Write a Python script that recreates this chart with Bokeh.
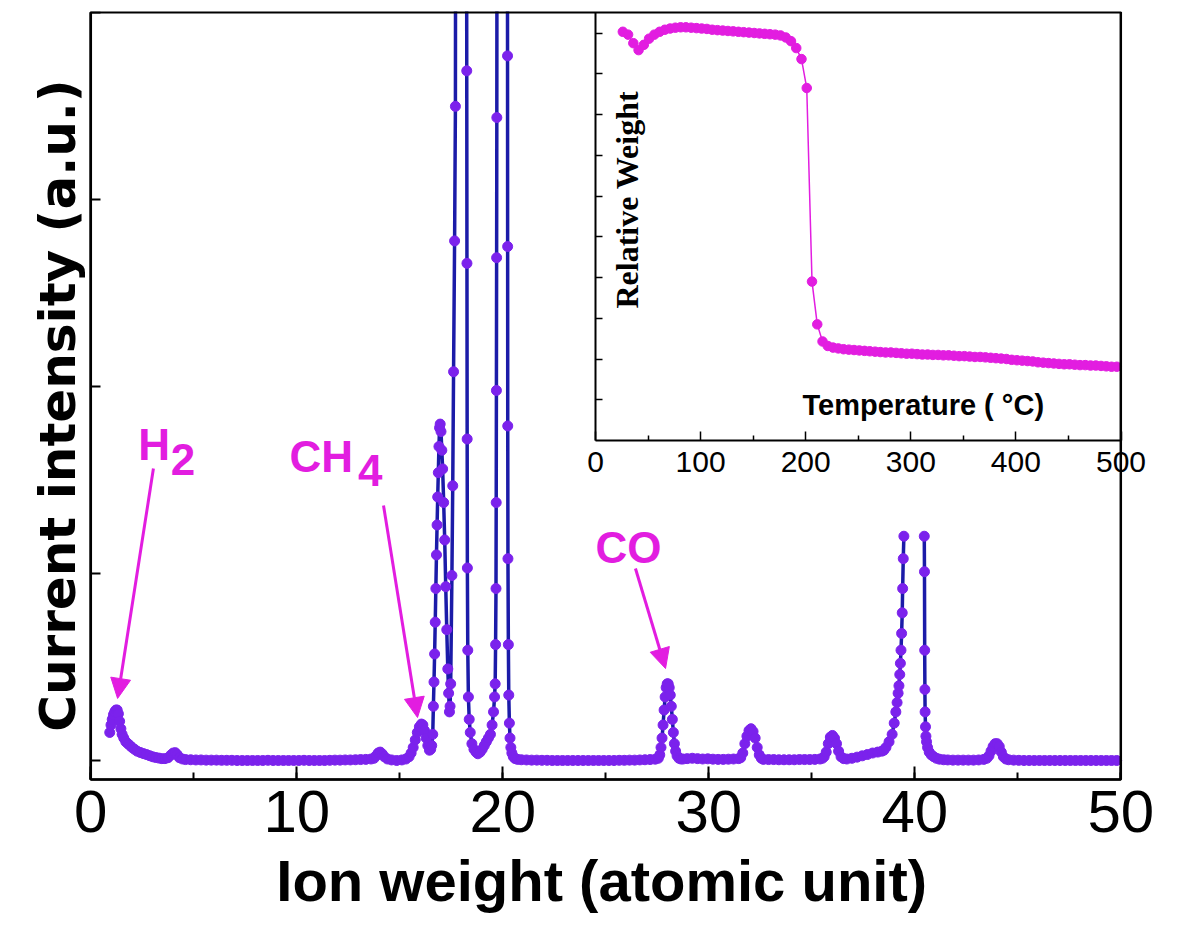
import math
from bokeh.plotting import figure
from bokeh.models import (Range1d, LinearAxis, FixedTicker, SingleIntervalTicker,
                          Label, Arrow, NormalHead, BoxAnnotation)
from bokeh.embed import file_html
from bokeh.resources import INLINE

# ---------------- main spectrum: (ion weight, current intensity a.u.) ----------------
seg_h2 = [(0.92,0.15),(0.98,0.19),(1.04,0.22),(1.10,0.245),(1.16,0.26),(1.22,0.27),(1.28,0.27),(1.34,0.25),
          (1.40,0.21),(1.46,0.17),(1.52,0.14),(1.60,0.12),(1.70,0.10),(1.80,0.09),(1.90,0.08),(2.00,0.07),
          (2.12,0.06),(2.25,0.05),(2.40,0.043),(2.55,0.037),(2.70,0.032),(2.85,0.026),(3.00,0.02),(3.15,0.016),
          (3.30,0.013),(3.45,0.01),(3.60,0.01),(3.75,0.015),(3.90,0.03),(4.00,0.04),(4.10,0.042),(4.20,0.03),
          (4.30,0.015),(4.45,0.008),(4.60,0.005)]
seg_base1 = [(4.85,0.004),(5.10,0.003),(5.35,0.003),(5.60,0.002),(5.85,0.002),(6.10,0.002),(6.35,0.001),
             (6.60,0.001),(6.85,0.001),(7.10,0.0),(7.35,0.0),(7.60,0.0),(7.85,0.0),(8.10,0.0),(8.35,0.0),
             (8.60,0.001),(8.85,0.0),(9.10,0.0),(9.35,0.0),(9.60,0.0),(9.85,0.0),(10.10,0.0),(10.35,0.001),
             (10.60,0.0),(10.85,0.0),(11.10,0.0),(11.35,0.0),(11.60,0.001),(11.85,0.002),(12.10,0.002),
             (12.35,0.003),(12.60,0.003),(12.85,0.004),(13.10,0.005),(13.35,0.006),(13.60,0.008)]
seg_ch4 = [(13.75,0.012),(13.85,0.025),(13.95,0.04),(14.05,0.045),(14.15,0.035),(14.25,0.02),(14.40,0.008),
           (14.60,0.003),(14.85,0.0),(15.10,0.003),(15.30,0.008),(15.45,0.02),(15.55,0.04),(15.65,0.07),
           (15.75,0.11),(15.85,0.15),(15.95,0.18),(16.05,0.195),(16.12,0.19),(16.20,0.16),(16.28,0.12),
           (16.36,0.08),(16.44,0.055),(16.50,0.06)]
seg_water = [(16.55,0.08),(16.60,0.14),(16.63,0.29),(16.66,0.42),(16.69,0.57),(16.72,0.74),(16.75,0.92),
             (16.78,1.10),(16.81,1.26),(16.84,1.41),(16.87,1.54),(16.90,1.68),(16.93,1.78),(16.96,1.80),
             (17.00,1.76),(17.04,1.66),(17.08,1.56),(17.13,1.38),(17.18,1.18),(17.23,0.93),(17.28,0.70),
             (17.33,0.49),(17.37,0.36),(17.41,0.26),(17.44,0.29),(17.47,0.41),(17.53,0.99),(17.57,1.47),
             (17.61,2.08),(17.66,2.78),(17.70,3.50),(17.98,40.0),(18.25,3.69),(18.26,2.66),(18.27,1.72),
             (18.28,1.03),(18.30,0.59),(18.33,0.34),(18.37,0.22),(18.42,0.15),(18.50,0.09),(18.60,0.06),
             (18.70,0.045),(18.79,0.036),(18.90,0.045),(19.00,0.06),(19.10,0.08),(19.20,0.10),(19.30,0.12),
             (19.40,0.14),(19.48,0.19),(19.55,0.26),(19.60,0.34),(19.63,0.41),(19.65,0.62),(19.67,0.92),
             (19.68,1.38),(19.69,1.98),(19.70,2.69),(19.71,3.44),(19.97,40.0),(20.23,3.77),(20.235,2.75),
             (20.24,1.79),(20.25,1.08),(20.27,0.62),(20.29,0.35),(20.32,0.20),(20.35,0.12),(20.39,0.07),
             (20.44,0.04),(20.51,0.02),(20.60,0.01),(20.72,0.006)]
seg_base2 = [(20.90,0.004),(21.15,0.003),(21.40,0.002),(21.65,0.002),(21.90,0.001),(22.15,0.001),(22.40,0.0),
             (22.65,0.0),(22.90,0.0),(23.15,0.0),(23.40,0.0),(23.65,0.0),(23.90,0.0),(24.15,0.0),(24.40,0.0),
             (24.65,0.0),(24.90,0.0),(25.15,0.0),(25.40,0.0),(25.65,0.001),(25.90,0.001),(26.15,0.002),
             (26.40,0.002),(26.65,0.003),(26.90,0.004),(27.15,0.005),(27.40,0.007)]
seg_co = [(27.55,0.012),(27.62,0.03),(27.68,0.07),(27.73,0.12),(27.78,0.19),(27.83,0.27),(27.88,0.34),
          (27.93,0.39),(27.98,0.41),(28.03,0.41),(28.08,0.39),(28.13,0.35),(28.18,0.29),(28.23,0.22),
          (28.28,0.15),(28.33,0.09),(28.39,0.05),(28.46,0.025),(28.55,0.012),(28.65,0.008)]
seg_base3 = [(28.75,0.008),(28.95,0.01),(29.20,0.012),(29.45,0.01),(29.70,0.008),(29.95,0.009),(30.20,0.007),
             (30.45,0.006),(30.70,0.006),(30.95,0.007),(31.20,0.008),(31.45,0.01)]
seg_o2 = [(31.55,0.015),(31.65,0.04),(31.75,0.09),(31.85,0.13),(31.95,0.16),(32.05,0.17),(32.15,0.155),
          (32.25,0.12),(32.35,0.07),(32.45,0.03),(32.55,0.012)]
seg_base4 = [(32.65,0.006),(32.90,0.005),(33.15,0.005),(33.40,0.004),(33.65,0.004),(33.90,0.004),(34.15,0.004),
             (34.40,0.005),(34.65,0.005),(34.90,0.005),(35.15,0.006),(35.40,0.008)]
seg_36 = [(35.52,0.012),(35.60,0.02),(35.70,0.045),(35.80,0.09),(35.90,0.125),(36.00,0.134),(36.10,0.12),
          (36.20,0.09),(36.30,0.05),(36.42,0.02),(36.55,0.01)]
seg_ar_rise = [(36.70,0.008),(36.95,0.012),(37.20,0.018),(37.45,0.025),(37.70,0.032),(37.95,0.04),(38.20,0.045),
               (38.40,0.05),(38.50,0.055),(38.60,0.07),(38.75,0.10),(38.90,0.14),(39.00,0.20),(39.08,0.26),
               (39.14,0.31),(39.19,0.36),(39.23,0.40),(39.27,0.46),(39.30,0.52),(39.33,0.59),(39.36,0.68),
               (39.39,0.79),(39.41,0.92),(39.44,1.08),(39.47,1.20)]
seg_ar_fall = [(40.46,1.20),(40.47,1.01),(40.48,0.59),(40.49,0.38),(40.50,0.26),(40.52,0.18),(40.54,0.13),
               (40.57,0.10),(40.62,0.07),(40.70,0.045),(40.80,0.03),(40.92,0.02),(41.05,0.012),(41.20,0.007),
               (41.40,0.004)]
seg_base5 = [(41.60,0.003),(41.85,0.002),(42.10,0.002),(42.35,0.002),(42.60,0.002),(42.85,0.002),(43.10,0.003),
             (43.35,0.006)]
seg_co2 = [(43.50,0.012),(43.60,0.025),(43.70,0.05),(43.80,0.075),(43.90,0.09),(44.00,0.09),(44.10,0.075),
           (44.20,0.045),(44.30,0.02),(44.42,0.008)]
seg_base6 = [(44.55,0.004),(44.80,0.002),(45.05,0.001),(45.30,0.0),(45.55,0.0),(45.80,0.0),(46.05,0.0),(46.30,0.0),
             (46.55,0.0),(46.80,0.0),(47.05,0.0),(47.30,0.0),(47.55,0.0),(47.80,0.0),(48.05,0.0),(48.30,0.0),
             (48.55,0.0),(48.80,0.0),(49.05,0.0),(49.30,0.0),(49.55,0.0),(49.80,0.0)]

GAP = [(float("nan"), float("nan"))]
spectrum = (seg_h2 + seg_base1 + seg_ch4 + seg_water + seg_base2 + seg_co + seg_base3 + seg_o2 +
            seg_base4 + seg_36 + seg_ar_rise + GAP + seg_ar_fall + seg_base5 + seg_co2 + seg_base6)
ion_weight = [a for a, b in spectrum]
intensity = [b for a, b in spectrum]

# ---------------- inset TGA: temperature (C) vs relative weight ----------------
temperature = [26, 31, 36, 41, 46, 51, 56, 61, 66, 71,
               76, 81, 86, 91, 96, 101, 106, 111, 116, 121,
               126, 131, 136, 141, 146, 151, 156, 161, 166, 171,
               176, 181, 186, 191, 196, 201, 206, 211, 216, 221,
               226, 231, 236, 241, 246, 251, 256, 261, 266, 271,
               276, 281, 286, 291, 296, 301, 306, 311, 316, 321,
               326, 331, 336, 341, 346, 351, 356, 361, 366, 371,
               376, 381, 386, 391, 396, 401, 406, 411, 416, 421,
               426, 431, 436, 441, 446, 451, 456, 461, 466, 471,
               476, 481, 486, 491, 496]
rel_weight = [10.03, 9.96, 9.75, 9.58, 9.71, 9.86, 9.96, 10.03, 10.08, 10.11,
              10.13, 10.14, 10.14, 10.13, 10.12, 10.11, 10.10, 10.08, 10.07, 10.06,
              10.05, 10.04, 10.03, 10.02, 10.01, 10.00, 9.99, 9.98, 9.97, 9.96,
              9.94, 9.89, 9.80, 9.63, 9.36, 8.65, 3.90, 2.85, 2.43, 2.32,
              2.28, 2.26, 2.24, 2.23, 2.22, 2.21, 2.20, 2.19, 2.18, 2.17,
              2.16, 2.16, 2.15, 2.14, 2.13, 2.13, 2.12, 2.11, 2.11, 2.10,
              2.10, 2.09, 2.09, 2.08, 2.07, 2.07, 2.06, 2.05, 2.05, 2.04,
              2.03, 2.02, 2.01, 2.00, 1.98, 1.97, 1.96, 1.95, 1.94, 1.92,
              1.91, 1.90, 1.89, 1.88, 1.87, 1.87, 1.86, 1.85, 1.85, 1.84,
              1.84, 1.83, 1.82, 1.81, 1.81]

main_ticks_y = [0, 1, 2, 3, 4]
inset_ticks_x = [0, 100, 200, 300, 400, 500]
inset_minor_x = [50, 150, 250, 350, 450]
inset_ticks_y = [1, 2, 3, 4, 5, 6, 7, 8, 9, 10]

PURPLE = "#7B22EC"
BLUE = "#1B1BA8"
MAG = "#E21DE0"
FONT = "Liberation Sans"

# ---------------- layout (pixel calibration of the canvas) ----------------
W, H, TOP = 1195, 926, 11
PX_X0, PX_PER_X = 90.3, 20.6        # main x: pixel of 0, pixels per unit
PX_Y0, PX_PER_Y = 760.0, 186.9      # main y: pixel of 0, pixels per unit
X_VIS = (0, 50)                      # visible main axis box
Y_VIS = (-0.1017, 4.004)
PX_T0, PX_PER_T = 595.0, 1.051       # inset x
PX_W0, PX_PER_W = 440.0, 40.75       # inset y
W_TOP = 10.51

def xr(px0, k):
    return Range1d((0 - px0) / k, (W - px0) / k)

def yr(py0, k):
    return Range1d((py0 - H) / k, (py0 - TOP) / k)

p = figure(width=W, height=H, x_range=xr(PX_X0, PX_PER_X), y_range=yr(PX_Y0, PX_PER_Y),
           x_axis_location=None, y_axis_location=None,
           output_backend="svg", toolbar_location=None,
           min_border_left=0, min_border_right=0, min_border_top=TOP, min_border_bottom=0)
for g in p.grid:
    g.visible = False
p.outline_line_color = None
p.background_fill_color = "white"
p.border_fill_color = "white"
p.extra_x_ranges = {"temp": xr(PX_T0, PX_PER_T)}
p.extra_y_ranges = {"wt": yr(PX_W0, PX_PER_W)}

# main box
p.add_layout(BoxAnnotation(left=X_VIS[0], right=X_VIS[1], bottom=Y_VIS[0], top=Y_VIS[1],
                           fill_color=None, fill_alpha=0, line_color="black", line_alpha=1.0,
                           line_width=2.5))

xa = LinearAxis(fixed_location=Y_VIS[0], bounds=X_VIS,
                ticker=SingleIntervalTicker(interval=10, num_minor_ticks=2))
xa.major_tick_in = 13
xa.major_tick_out = 0
xa.minor_tick_in = 7
xa.minor_tick_out = 0
xa.axis_line_width = 2
xa.major_tick_line_width = 2
xa.minor_tick_line_width = 2
xa.major_label_text_font = FONT
xa.major_label_text_font_size = "60px"
xa.major_label_text_color = "black"
xa.major_label_standoff = 11
p.add_layout(xa, "below")

ya = LinearAxis(fixed_location=X_VIS[0], bounds=Y_VIS,
                ticker=FixedTicker(ticks=[], minor_ticks=main_ticks_y))
ya.major_tick_in = 0
ya.major_tick_out = 0
ya.minor_tick_in = 10
ya.minor_tick_out = 0
ya.axis_line_width = 2
ya.minor_tick_line_width = 2
p.add_layout(ya, "left")

# axis titles
p.add_layout(Label(x=24.8, y=-0.6426, text="Ion weight (atomic unit)", text_font=FONT,
                   text_font_size="58px", text_font_style="bold", text_color="black",
                   text_align="center", text_baseline="alphabetic"))
p.add_layout(Label(x=-1.568, y=1.899, angle=math.pi / 2, text="Current intensity (a.u.)",
                   text_font="DejaVu Sans", text_font_size="50px", text_font_style="bold",
                   text_color="black", text_align="center", text_baseline="alphabetic"))

# main data
p.line(ion_weight, intensity, line_color=BLUE, line_width=3.5)
p.scatter(ion_weight, intensity, size=10, fill_color=PURPLE, line_color=PURPLE)

# gas labels and arrows
def lab(x, y, t):
    p.add_layout(Label(x=x, y=y, text=t, text_font=FONT, text_font_size="44px",
                       text_font_style="bold", text_color=MAG, text_baseline="alphabetic",
                       text_align="left"))

lab(2.30, 1.690, "H")
lab(3.88, 1.610, "2")
lab(9.65, 1.628, "CH")
lab(12.97, 1.549, "4")
lab(24.5, 1.1375, "CO")

for xs, ys, xe, ye in [(3.04, 1.562, 1.30, 0.332), (14.21, 1.364, 15.86, 0.23), (26.44, 1.027, 27.9, 0.492)]:
    p.add_layout(Arrow(end=NormalHead(size=20, fill_color=MAG, line_color=MAG, line_width=1),
                       x_start=xs, y_start=ys, x_end=xe, y_end=ye,
                       line_color=MAG, line_width=3))

# ---------------- inset ----------------
ax_t = LinearAxis(x_range_name="temp", y_range_name="wt", fixed_location=0, bounds=(0, 500),
                  ticker=FixedTicker(ticks=[], minor_ticks=inset_ticks_x))
ax_t.major_tick_in = 0
ax_t.major_tick_out = 0
ax_t.minor_tick_in = 9
ax_t.minor_tick_out = 0
ax_t.axis_line_width = 2
ax_t.minor_tick_line_width = 1.5
p.add_layout(ax_t, "below")

ax_t2 = LinearAxis(x_range_name="temp", y_range_name="wt", fixed_location=0, bounds=(0, 500),
                   ticker=FixedTicker(ticks=[], minor_ticks=inset_minor_x))
ax_t2.major_tick_in = 0
ax_t2.major_tick_out = 0
ax_t2.minor_tick_in = 5
ax_t2.minor_tick_out = 0
ax_t2.axis_line_color = None
ax_t2.minor_tick_line_width = 1.5
p.add_layout(ax_t2, "below")

ax_w = LinearAxis(x_range_name="temp", y_range_name="wt", fixed_location=0, bounds=(0, W_TOP),
                  ticker=FixedTicker(ticks=[], minor_ticks=inset_ticks_y))
ax_w.major_tick_in = 0
ax_w.major_tick_out = 0
ax_w.minor_tick_in = 7
ax_w.minor_tick_out = 0
ax_w.axis_line_width = 2
ax_w.minor_tick_line_width = 1.5
p.add_layout(ax_w, "left")

for t in inset_ticks_x:
    p.add_layout(Label(x=t, y=-0.523, x_range_name="temp", y_range_name="wt", text=str(t),
                       text_font=FONT, text_font_size="30px", text_color="black",
                       text_align="center", text_baseline="alphabetic"))

p.line(temperature, rel_weight, x_range_name="temp", y_range_name="wt", line_color=MAG, line_width=1.5)
p.scatter(temperature, rel_weight, x_range_name="temp", y_range_name="wt", size=9.5,
          fill_color=MAG, line_color=MAG)

p.add_layout(Label(x=197, y=0.866, x_range_name="temp", y_range_name="wt",
                   text="Temperature ( °C)", text_font=FONT, text_font_size="29px",
                   text_font_style="bold", text_color="black", text_baseline="alphabetic",
                   text_align="left"))
p.add_layout(Label(x=29.5, y=5.91, x_range_name="temp", y_range_name="wt", angle=math.pi / 2,
                   text="Relative Weight", text_font="Liberation Serif", text_font_size="32px",
                   text_font_style="bold", text_color="black", text_baseline="alphabetic",
                   text_align="center"))

open("out.html", "w").write(file_html(p, INLINE))
